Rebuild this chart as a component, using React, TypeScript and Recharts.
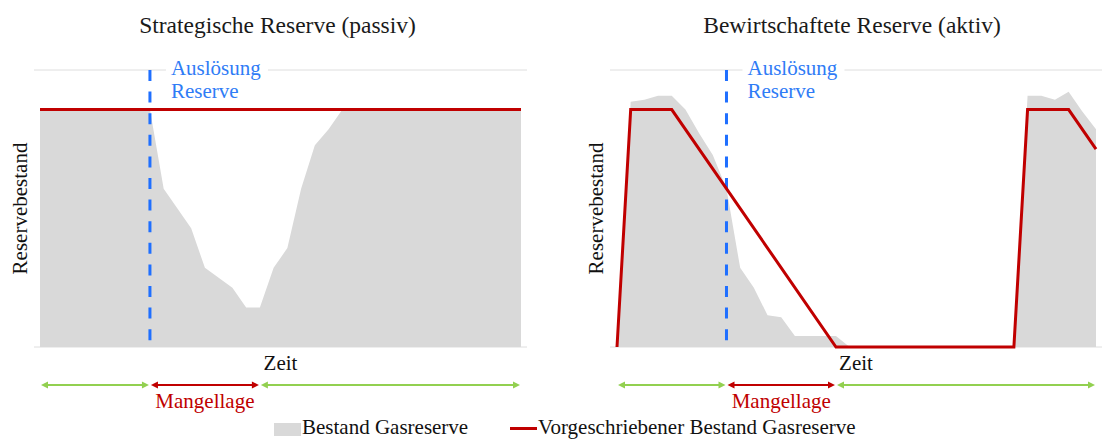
import React from "react"
import {
  ComposedChart,
  Area,
  Line,
  XAxis,
  YAxis,
  CartesianGrid,
  ReferenceLine,
} from "recharts"

const FONT = "'Liberation Serif', 'DejaVu Serif', serif"
const GRAU = "#d9d9d9"
const ROT = "#c00000"
const GRUEN = "#92d050"
const BLAU = "#1f6fff"

// Zeitschritte (x-Achse)
const zeitpunkte = [
  0, 1, 2, 3, 4, 5, 6, 7, 8, 9, 10, 11, 12, 13, 14, 15, 16, 17, 18, 19, 20, 21, 22, 23, 24, 25, 26,
  27, 28, 29, 30, 31, 32, 33, 34, 35,
]

// Bestand Gasreserve
const bestandPassiv = [
  6, 6, 6, 6, 6, 6, 6, 6, 6, 4, 3.5, 3, 2, 1.75, 1.5, 1, 1, 2, 2.5, 4, 5.1, 5.5, 6, 6, 6, 6, 6, 6,
  6, 6, 6, 6, 6, 6, 6, 6,
]
const bestandAktiv = [
  0, 6.2, 6.25, 6.35, 6.35, 6, 5.4, 4.85, 4, 2, 1.5, 0.8, 0.75, 0.28, 0.28, 0.28, 0.28, 0, 0, 0, 0,
  0, 0, 0, 0, 0, 0, 0, 0, 0, 6.35, 6.35, 6.25, 6.45, 5.95, 5.5,
]

// Vorgeschriebener Bestand (Eckpunkte)
const vorgabePassivZeit = [0, 35]
const vorgabePassivWert = [6, 6]
const vorgabeAktivZeit = [0, 1, 4, 16, 29, 30, 33, 35]
const vorgabeAktivWert = [0, 6, 6, 0, 0, 6, 6, 5]

const yTicks = [0, 1, 2, 3, 4, 5, 6, 7]
const ausloesungZeit = 8

const phasen = [
  { von: 0, bis: 8, mangel: false },
  { von: 8, bis: 16, mangel: true },
  { von: 16, bis: 35, mangel: false },
]

const AusloesungShape = (props: any) => {
  const { x1, y1, x2, y2 } = props
  return (
    <g>
      <line x1={x1} y1={y1} x2={x2} y2={y2} stroke={BLAU} strokeWidth={3} strokeDasharray="11 10.6" />
      <rect x={x1 + 16} y={y1 - 14} width={102} height={26} fill="#fff" />
      <text x={x1 + 21} y={y1 + 5} fill="#2f7cf6" fontSize={21} fontFamily={FONT}>
        Auslösung
      </text>
      <text x={x1 + 21} y={y1 + 28} fill="#2f7cf6" fontSize={21} fontFamily={FONT}>
        Reserve
      </text>
    </g>
  )
}

const Pfeil = (props: any) => {
  const { x1, y1, x2, mangel } = props
  const farbe = mangel ? ROT : GRUEN
  const y = y1 + 38
  const a = x1 + 1
  const b = x2 - 1
  const h = 7
  const w = 3.5
  return (
    <g>
      <line x1={a + h - 1} x2={b - h + 1} y1={y} y2={y} stroke={farbe} strokeWidth={2} />
      <polygon points={`${a},${y} ${a + h},${y - w} ${a + h},${y + w}`} fill={farbe} />
      <polygon points={`${b},${y} ${b - h},${y - w} ${b - h},${y + w}`} fill={farbe} />
      {mangel && (
        <text x={(a + b) / 2} y={y + 23} textAnchor="middle" fill={ROT} fontSize={21} fontFamily={FONT}>
          Mangellage
        </text>
      )}
    </g>
  )
}

const renderZeit = (props: any) => {
  const vb = props.viewBox
  if (!vb) return null
  return (
    <text x={vb.x + vb.width / 2} y={vb.y + 23} textAnchor="middle" fill="#111" fontSize={21} fontFamily={FONT}>
      Zeit
    </text>
  )
}

const renderReserve = (props: any) => {
  const vb = props.viewBox
  if (!vb) return null
  const cx = vb.x + vb.width - 14
  const cy = vb.y + vb.height / 2
  return (
    <text
      x={cx}
      y={cy}
      transform={`rotate(-90, ${cx}, ${cy})`}
      textAnchor="middle"
      dominantBaseline="central"
      fill="#111"
      fontSize={21}
      fontFamily={FONT}
    >
      Reservebestand
    </text>
  )
}

interface ReserveChartProps {
  left: number
  width: number
  marginRight: number
  padding: { left: number; right: number }
  bestand: number[]
  vorgabeZeit: number[]
  vorgabeWert: number[]
}

function ReserveChart({ left, width, marginRight, padding, bestand, vorgabeZeit, vorgabeWert }: ReserveChartProps) {
  const data = zeitpunkte.map((t, i) => {
    const k = vorgabeZeit.indexOf(t)
    return { t, bestand: bestand[i], vorgabe: k >= 0 ? vorgabeWert[k] : null }
  })

  return (
    <div style={{ position: "absolute", left, top: 0 }}>
      <ComposedChart width={width} height={439} data={data} margin={{ top: 70, right: marginRight, bottom: 62, left: 0 }}>
        <CartesianGrid vertical={false} stroke="#dedede" />
        <XAxis
          dataKey="t"
          type="number"
          domain={[0, 35]}
          tick={false}
          axisLine={false}
          tickLine={false}
          height={30}
          padding={padding}
          label={{ value: "Zeit", content: renderZeit }}
        />
        <YAxis
          type="number"
          domain={[0, 7]}
          ticks={yTicks}
          tick={false}
          axisLine={false}
          tickLine={false}
          width={34}
          label={{ value: "Reservebestand", content: renderReserve }}
        />
        <Area
          dataKey="bestand"
          type="linear"
          fill={GRAU}
          fillOpacity={1}
          stroke="none"
          isAnimationActive={false}
        />
        <ReferenceLine
          segment={[
            { x: ausloesungZeit, y: 7 },
            { x: ausloesungZeit, y: 0 },
          ]}
          shape={AusloesungShape}
        />
        <Line
          dataKey="vorgabe"
          type="linear"
          stroke={ROT}
          strokeWidth={3}
          dot={false}
          connectNulls
          isAnimationActive={false}
        />
        {phasen.map((p, i) => (
          <ReferenceLine
            key={i}
            segment={[
              { x: p.von, y: 0 },
              { x: p.bis, y: 0 },
            ]}
            shape={(props: any) => <Pfeil {...props} mangel={p.mangel} />}
          />
        ))}
      </ComposedChart>
    </div>
  )
}

export default function App() {
  return (
    <div style={{ position: "absolute", left: 0, top: 0, width: 1102, height: 439, background: "#fff", overflow: "hidden" }}>
      <ReserveChart
        left={0}
        width={560}
        marginRight={33}
        padding={{ left: 6, right: 6 }}
        bestand={bestandPassiv}
        vorgabeZeit={vorgabePassivZeit}
        vorgabeWert={vorgabePassivWert}
      />
      <ReserveChart
        left={576}
        width={526}
        marginRight={0}
        padding={{ left: 7, right: 6 }}
        bestand={bestandAktiv}
        vorgabeZeit={vorgabeAktivZeit}
        vorgabeWert={vorgabeAktivWert}
      />
      <svg width={1102} height={439} style={{ position: "absolute", left: 0, top: 0, pointerEvents: "none" }}>
        <text x={277.5} y={33} textAnchor="middle" fontSize={23.5} fontFamily={FONT} fill="#1a1a1a">
          Strategische Reserve (passiv)
        </text>
        <text x={852} y={33} textAnchor="middle" fontSize={23.5} fontFamily={FONT} fill="#1a1a1a">
          Bewirtschaftete Reserve (aktiv)
        </text>
        <rect x={274} y={423} width={27} height={13} fill={GRAU} />
        <text x={302} y={434} fontSize={21} fontFamily={FONT} fill="#111">
          Bestand Gasreserve
        </text>
        <line x1={510} x2={537} y1={428.5} y2={428.5} stroke={ROT} strokeWidth={3} />
        <text x={538} y={434} fontSize={21} fontFamily={FONT} fill="#111">
          Vorgeschriebener Bestand Gasreserve
        </text>
      </svg>
    </div>
  )
}
